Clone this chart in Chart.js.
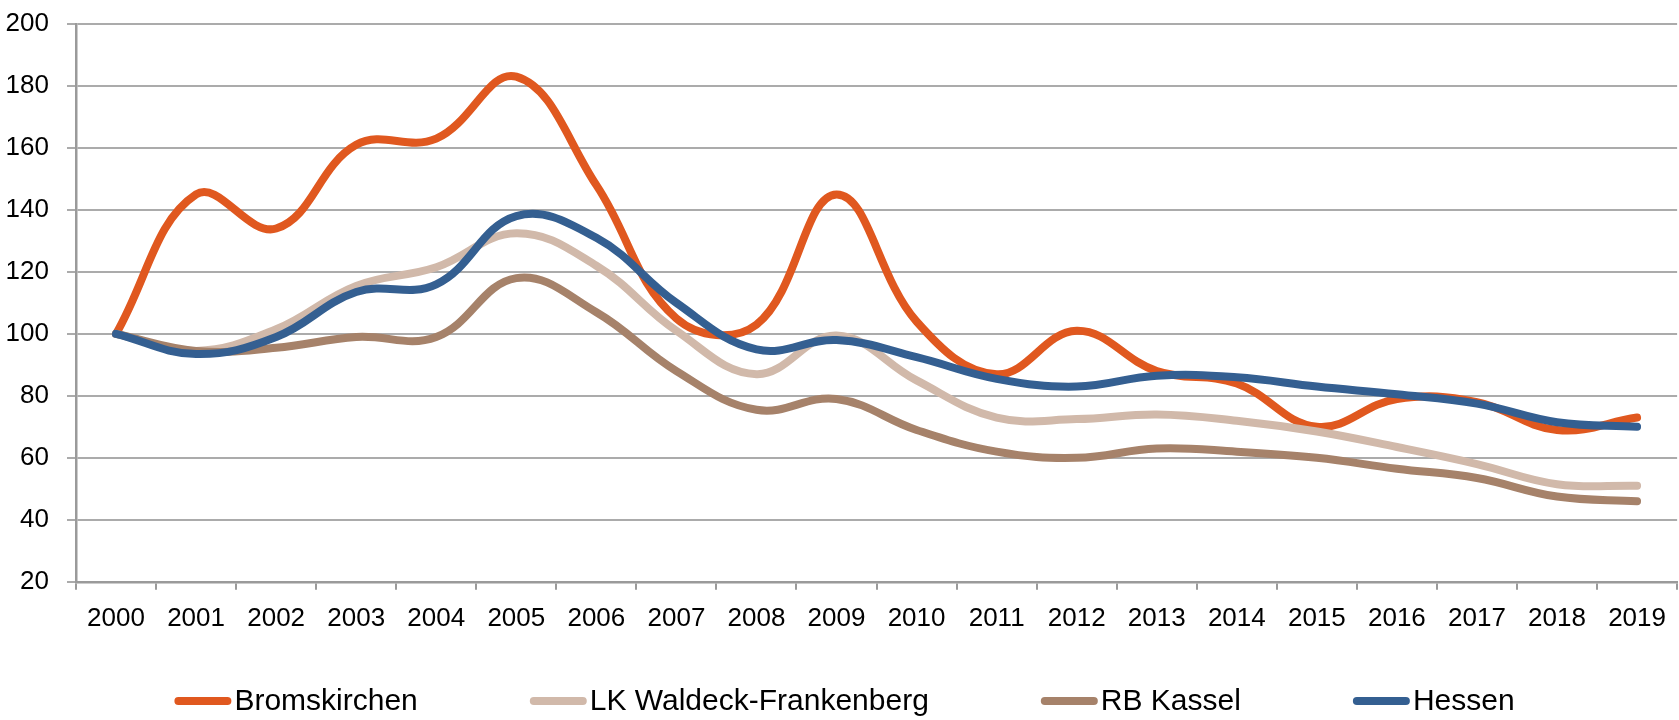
<!DOCTYPE html>
<html>
<head>
<meta charset="utf-8">
<script src="https://cdn.jsdelivr.net/npm/chart.js@4"></script>
<style>
  html, body { margin: 0; padding: 0; background: #fff; }
  #wrap { width: 1679px; height: 720px; position: relative; }
</style>
</head>
<body>
<div id="wrap"><canvas id="indexChart"></canvas></div>
<script>
// ============================
// DATA
// ============================
const years = ['2000', '2001', '2002', '2003', '2004', '2005', '2006', '2007', '2008', '2009',
               '2010', '2011', '2012', '2013', '2014', '2015', '2016', '2017', '2018', '2019'];

const bromskirchen = [100, 145, 134, 161, 163, 183, 148, 105, 103, 145, 104, 87, 101, 88, 84, 70, 79, 78, 69, 73];
const waldeckFrankenberg = [100, 94.5, 101.5, 115.5, 121.5, 132.5, 122, 101, 87, 99.5, 85, 73, 72.5, 74, 72, 68.5, 63.5, 58, 51.5, 51];
const rbKassel = [100, 94.5, 95.5, 99, 99, 118, 107, 88, 75.5, 79, 69, 62, 60, 63, 62, 60, 56.5, 53.5, 47.5, 46];
const hessen = [100, 93.5, 99, 113.5, 116, 138, 131, 110, 95, 98, 92.5, 85.5, 83, 86.5, 86, 83, 80.5, 77.5, 71.5, 70];

const yTicks = [20, 40, 60, 80, 100, 120, 140, 160, 180, 200];

// ============================
// STYLE
// ============================
const FONT = "'Liberation Sans Narrow', 'Arial Narrow', 'Liberation Sans', Arial, sans-serif";
Chart.defaults.font.family = FONT;
Chart.defaults.color = '#000';

const GRID = '#ababab';
const AXIS = '#9a9a9a';

// custom legend: long round-capped line + label, drawn under the axis
const lineLegend = {
    id: 'lineLegend',
    afterDraw(chart) {
        const ctx = chart.ctx;
        const sets = chart.data.datasets;
        const lineLen = 57, textGap = 3, itemGap = 112;
        ctx.save();
        ctx.font = '30px ' + FONT;
        const widths = sets.map(d => lineLen + textGap + ctx.measureText(d.label).width);
        const total = widths.reduce((a, b) => a + b, 0) + itemGap * (sets.length - 1);
        let x = chart.width / 2 - total / 2 + 5;
        const y = chart.height - 19;
        sets.forEach((d, i) => {
            ctx.strokeStyle = d.borderColor;
            ctx.lineWidth = 8;
            ctx.lineCap = 'round';
            ctx.beginPath();
            ctx.moveTo(x + 4, y);
            ctx.lineTo(x + lineLen - 4, y);
            ctx.stroke();
            ctx.fillStyle = '#000';
            ctx.textBaseline = 'middle';
            ctx.textAlign = 'left';
            ctx.fillText(d.label, x + lineLen + textGap, y + 1);
            x += widths[i] + itemGap;
        });
        ctx.restore();
    }
};

function series(label, data, color, order) {
    return {
        label: label,
        data: data,
        borderColor: color,
        backgroundColor: color,
        borderWidth: 8,
        borderCapStyle: 'round',
        borderJoinStyle: 'round',
        pointRadius: 0,
        tension: 0.4,
        fill: false,
        order: order
    };
}

// ============================
// CHART
// ============================
new Chart(document.getElementById('indexChart'), {
    type: 'line',
    data: {
        labels: years,
        datasets: [
            series('Bromskirchen', bromskirchen, '#e0581f', 3),
            series('LK Waldeck-Frankenberg', waldeckFrankenberg, '#d1b9aa', 2),
            series('RB Kassel', rbKassel, '#a6826a', 1),
            series('Hessen', hessen, '#345f91', 0)
        ]
    },
    options: {
        responsive: true,
        maintainAspectRatio: false,
        animation: false,
        layout: { padding: { top: 24, right: 0, bottom: 73, left: 0 } },
        plugins: {
            legend: { display: false },
            tooltip: { enabled: false }
        },
        scales: {
            x: {
                offset: true,
                grid: {
                    offset: true,
                    drawOnChartArea: false,
                    color: AXIS,
                    lineWidth: 2,
                    tickLength: 8
                },
                border: { color: AXIS, width: 2.5 },
                ticks: {
                    font: { size: 26 },
                    padding: 13,
                    maxRotation: 0,
                    autoSkip: false
                }
            },
            y: {
                min: 20,
                max: 200,
                afterFit: (scale) => {
                    scale.width = 76;
                    scale.paddingTop = 0;
                    scale.paddingBottom = 0;
                },
                afterBuildTicks: (scale) => {
                    scale.ticks = yTicks.map(v => ({ value: v }));
                },
                grid: {
                    color: GRID,
                    lineWidth: 2,
                    tickLength: 9
                },
                border: { color: AXIS, width: 2.5 },
                ticks: {
                    font: { size: 26 },
                    padding: 18
                }
            }
        }
    },
    plugins: [lineLegend]
});
</script>
</body>
</html>
